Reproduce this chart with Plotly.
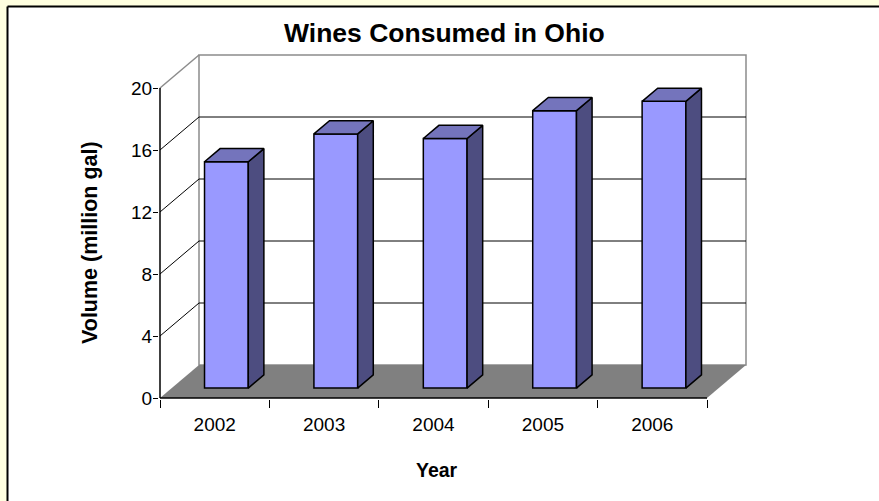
import plotly.graph_objects as go

# ---- data ----
years = ["2002", "2003", "2004", "2005", "2006"]
volumes = [14.6, 16.4, 16.1, 17.9, 18.5]
y_ticks = [0, 4, 8, 12, 16, 20]

# ---- 3D look parameters (in axis units) ----
DX = 0.3565   # depth offset along x (categories)
DY = 2.129    # depth offset along y (value units)
FA = 0.30     # depth fraction where bar front sits
BD = 0.40     # bar depth fraction
BW = 0.40     # bar width (categories)
N = len(years)
YMAX = 20

FRONT = "#9999FF"
SIDE = "#4D4D80"
TOP = "#7474BC"
FLOOR = "#808080"
WALL = "#8C8C8C"

centers = [i + 0.5 for i in range(N)]

fig = go.Figure()

# front faces as bars
fig.add_trace(go.Bar(
    x=[c + FA * DX for c in centers], y=volumes, base=FA * DY, width=BW,
    marker=dict(color=FRONT, line=dict(color="black", width=1.5)),
    hoverinfo="skip", showlegend=False))

# side + top faces
sx, sy, tx, ty = [], [], [], []
for c, v in zip(centers, volumes):
    xr = c + FA * DX + BW / 2
    xl = xr - BW
    yb = FA * DY
    yt = FA * DY + v
    sx += [xr, xr, xr + BD * DX, xr + BD * DX, xr, None]
    sy += [yb, yt, yt + BD * DY, yb + BD * DY, yb, None]
    tx += [xl, xr, xr + BD * DX, xl + BD * DX, xl, None]
    ty += [yt, yt, yt + BD * DY, yt + BD * DY, yt, None]

fig.add_trace(go.Scatter(x=sx, y=sy, mode="lines", fill="toself", fillcolor=SIDE,
                         line=dict(color="black", width=1.5), hoverinfo="skip",
                         showlegend=False))
fig.add_trace(go.Scatter(x=tx, y=ty, mode="lines", fill="toself", fillcolor=TOP,
                         line=dict(color="black", width=1.5), hoverinfo="skip",
                         showlegend=False))

shapes = []
W_, H_ = 879, 501
L, R, T, B = 159, 119, 50, 102
PW, PH = W_ - L - R, H_ - T - B
def px(x):
    return (x - L) / PW
def py(y):
    return (H_ - B - y) / PH
# outer white frame (top and left borders only visible)
shapes.append(dict(type="rect", xref="paper", yref="paper", x0=px(7.5), x1=px(W_ + 5),
                   y0=py(H_ + 5), y1=py(6.5), fillcolor="white",
                   line=dict(width=0), layer="below"))
shapes.append(dict(type="line", xref="paper", yref="paper", x0=px(7.5), x1=px(W_ + 5),
                   y0=py(6.5), y1=py(6.5), line=dict(color="black", width=2), layer="below"))
shapes.append(dict(type="line", xref="paper", yref="paper", x0=px(7.5), x1=px(7.5),
                   y0=py(H_ + 5), y1=py(6.5), line=dict(color="black", width=2), layer="below"))
# back wall
shapes.append(dict(type="rect", xref="x", yref="y", x0=DX, x1=N + DX, y0=DY, y1=YMAX + DY,
                   fillcolor="white", line=dict(color=WALL, width=1.5), layer="below"))
# floor
shapes.append(dict(type="path", xref="x", yref="y",
                   path=f"M 0,0 L {N},0 L {N + DX},{DY} L {DX},{DY} Z",
                   fillcolor=FLOOR, line=dict(width=0), layer="below"))
# gridlines on back wall and left wall
for v in y_ticks[1:-1]:
    shapes.append(dict(type="line", xref="x", yref="y", x0=DX, x1=N + DX, y0=v + DY, y1=v + DY,
                       line=dict(color="black", width=1), layer="below"))
    shapes.append(dict(type="line", xref="x", yref="y", x0=0, x1=DX, y0=v, y1=v + DY,
                       line=dict(color="black", width=1), layer="below"))
# left wall top edge
shapes.append(dict(type="line", xref="x", yref="y", x0=0, x1=DX, y0=YMAX, y1=YMAX + DY,
                   line=dict(color=WALL, width=1.5), layer="below"))
# axis lines
shapes.append(dict(type="line", xref="x", yref="y", x0=0, x1=0, y0=0, y1=YMAX,
                   line=dict(color="black", width=1.5), layer="below"))
shapes.append(dict(type="line", xref="x", yref="y", x0=0, x1=N, y0=0, y1=0,
                   line=dict(color="black", width=1.5), layer="below"))

XS = 109.4  # px per category
YS = 15.5   # px per value unit
x0 = -1 / XS
y0 = -1 / YS

font_family = "Arial, Liberation Sans, sans-serif"

annotations = [
    dict(text="<b>Wines Consumed in Ohio</b>", xref="paper", yref="paper", x=px(444.5), y=py(33),
         xanchor="center", yanchor="middle", showarrow=False,
         font=dict(size=26.5, color="black", family=font_family)),
    dict(text="<b>Volume (million gal)</b>", xref="paper", yref="paper", x=px(90), y=py(243),
         xanchor="center", yanchor="middle", showarrow=False, textangle=-90,
         font=dict(size=21.5, color="black", family=font_family)),
    dict(text="<b>Year</b>", xref="paper", yref="paper", x=px(437), y=py(470),
         xanchor="center", yanchor="middle", showarrow=False,
         font=dict(size=19.5, color="black", family=font_family)),
]

fig.update_layout(
    width=W_, height=H_,
    margin=dict(l=L, r=R, t=T, b=B),
    paper_bgcolor="#FFFFE0",
    plot_bgcolor="rgba(0,0,0,0)",
    shapes=shapes,
    annotations=annotations,
    showlegend=False,
    font=dict(family=font_family, color="black"),
    xaxis=dict(range=[x0, x0 + PW / XS], tickmode="array", tickvals=centers, ticktext=years,
               ticks="outside", ticklen=8, tickcolor="rgba(0,0,0,0)",
               showgrid=False, zeroline=False, showline=False,
               tickfont=dict(size=19, color="black", family=font_family),
               minor=dict(tickmode="array", tickvals=list(range(N + 1)), ticks="outside",
                          ticklen=8, tickcolor="black", tickwidth=1, showgrid=False)),
    yaxis=dict(range=[y0, y0 + PH / YS], tickmode="array", tickvals=y_ticks,
               ticks="outside", ticklen=5, tickcolor="black", tickwidth=1,
               ticklabelstandoff=-3,
               showgrid=False, zeroline=False, showline=False,
               tickfont=dict(size=19, color="black", family=font_family)),
)

fig.write_html("out.html", config={"displayModeBar": False},
               post_script=("document.body.style.margin='0';document.body.style.padding='0';"
                            "document.body.style.overflow='hidden';"
                            "document.documentElement.style.overflow='hidden';"))
